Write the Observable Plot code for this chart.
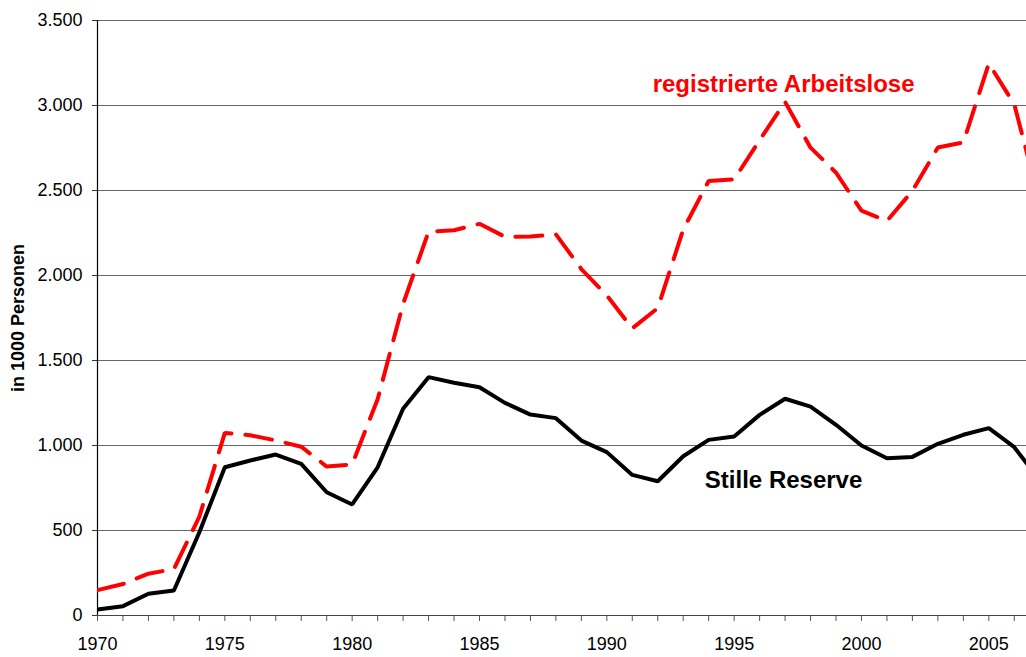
<!DOCTYPE html>
<html>
<head>
<meta charset="utf-8">
<script src="https://cdn.jsdelivr.net/npm/d3@7"></script>
<script src="https://cdn.jsdelivr.net/npm/@observablehq/plot@0.6"></script>
<style>
  html, body { margin: 0; padding: 0; background: #fff; }
  #chart svg { display: block; }
</style>
</head>
<body>
<div id="chart"></div>
<script>
const years = d3.range(1970, 2008);
const registrierteArbeitslose = [149,185,246,273,582,1074,1060,1030,993,876,889,1272,1833,2258,2266,2304,2228,2229,2242,2038,1883,1689,1808,2270,2556,2565,2796,3021,2752,2605,2381,2321,2498,2753,2783,3247,3007,2430];
const stilleReserve = [35,55,128,147,490,872,912,947,892,725,653,872,1216,1402,1369,1343,1251,1182,1161,1029,961,827,790,937,1033,1053,1180,1275,1229,1122,1000,925,933,1010,1063,1102,990,795];
const yTicks = [0,500,1000,1500,2000,2500,3000,3500];
const xTicks = years.slice(0, 37);
const seriesLabels = [
  {text: "registrierte Arbeitslose", year: 1991.8, value: 3122, color: "#ff0000"},
  {text: "Stille Reserve", year: 1993.85, value: 796, color: "#000000"}
];
const yAxisLabel = "in 1000 Personen";

const redData = years.map((y, i) => ({year: y, value: registrierteArbeitslose[i]}));
const blackData = years.map((y, i) => ({year: y, value: stilleReserve[i]}));
const fmt = d => d3.format(",")(d).replace(/,/g, ".");

const chart = Plot.plot({
  width: 1026,
  height: 657,
  marginLeft: 97,
  marginRight: 0,
  marginTop: 20,
  marginBottom: 42,
  style: {fontFamily: "'Liberation Sans', Arial, sans-serif", background: "#fff", color: "#000"},
  x: {domain: [1970, 2006.48], label: null},
  y: {domain: [0, 3500], label: null},
  marks: [
    Plot.gridY(yTicks.slice(1), {stroke: "#666", strokeOpacity: 1, strokeWidth: 1}),
    Plot.axisY(yTicks, {tickFormat: fmt, tickSize: 5, tickPadding: 10, fontSize: 18, stroke: "#333", label: null}),
    Plot.axisX(xTicks, {tickFormat: d => d % 5 === 0 ? String(d) : "", tickSize: 6, tickPadding: 16, fontSize: 18, stroke: "#555", label: null}),
    Plot.ruleY([0], {stroke: "#444", strokeWidth: 1}),
    Plot.ruleX([1970], {stroke: "#000", strokeWidth: 1.2}),
    Plot.line(blackData, {x: "year", y: "value", stroke: "#000", strokeWidth: 4, strokeLinejoin: "miter", clip: true}),
    Plot.line(redData, {x: "year", y: "value", stroke: "#ff0000", strokeWidth: 4, strokeDasharray: "27,14", strokeLinejoin: "miter", clip: true}),
    Plot.text(seriesLabels, {x: "year", y: "value", text: "text", fill: "color", textAnchor: "start", lineAnchor: "middle", fontSize: 24, fontWeight: "bold"}),
    Plot.text([yAxisLabel], {frameAnchor: "left", textAnchor: "middle", dx: -79, rotate: -90, fontSize: 18, fontWeight: "bold", fill: "#000", y: [1750], text: d => d})
  ]
});
document.getElementById("chart").appendChild(chart);
</script>
</body>
</html>
